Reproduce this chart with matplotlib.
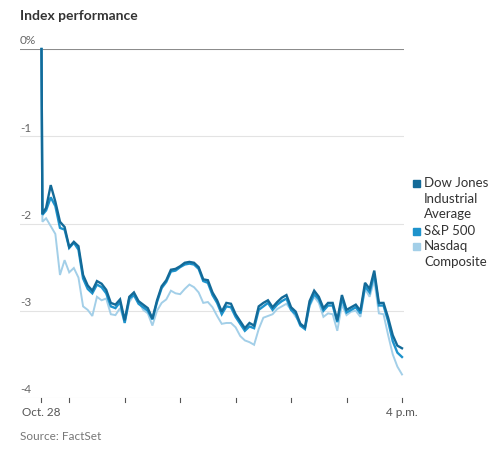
import matplotlib
matplotlib.use("Agg")
import matplotlib.pyplot as plt
import numpy as np

plt.rcParams['font.family'] = ['Lato', 'DejaVu Sans']

# minutes after 9:30 a.m.
minutes = [0, 1] + list(range(5, 391, 5))

dow = [0, -1.89,
       -1.82, -1.56, -1.75, -1.98, -2.04, -2.27, -2.21, -2.26, -2.59, -2.71,
       -2.77, -2.66, -2.69, -2.76, -2.91, -2.93, -2.87, -3.11, -2.84, -2.79,
       -2.89, -2.93, -2.97, -3.09, -2.88, -2.72, -2.65, -2.53, -2.52, -2.49,
       -2.45, -2.44, -2.45, -2.50, -2.64, -2.65, -2.79, -2.88, -3.01, -2.91,
       -2.92, -3.04, -3.12, -3.20, -3.14, -3.17, -2.95, -2.91, -2.88, -2.96,
       -2.90, -2.85, -2.82, -2.96, -3.01, -3.15, -3.19, -2.89, -2.77, -2.84,
       -2.97, -2.91, -2.91, -3.11, -2.82, -2.99, -2.96, -2.93, -3.00, -2.68,
       -2.75, -2.54, -2.91, -2.91, -3.08, -3.28, -3.40, -3.43]

sp500 = [0, -1.90,
         -1.85, -1.70, -1.80, -2.05, -2.07, -2.28, -2.22, -2.30, -2.63, -2.75,
         -2.80, -2.70, -2.73, -2.80, -2.95, -2.97, -2.90, -3.14, -2.86, -2.82,
         -2.92, -2.96, -3.00, -3.10, -2.90, -2.74, -2.67, -2.55, -2.54, -2.50,
         -2.47, -2.46, -2.47, -2.52, -2.66, -2.68, -2.82, -2.91, -3.04, -2.95,
         -2.96, -3.07, -3.15, -3.23, -3.18, -3.20, -2.99, -2.95, -2.91, -2.99,
         -2.93, -2.89, -2.86, -2.99, -3.04, -3.17, -3.21, -2.93, -2.81, -2.87,
         -3.00, -2.94, -2.94, -3.13, -2.86, -3.02, -2.99, -2.96, -3.03, -2.72,
         -2.79, -2.58, -2.94, -2.94, -3.12, -3.35, -3.48, -3.53]

nasdaq = [0, -1.98,
          -1.94, -2.03, -2.12, -2.59, -2.42, -2.56, -2.51, -2.62, -2.95, -2.99,
          -3.06, -2.84, -2.88, -2.86, -3.04, -3.05, -2.97, -3.13, -2.90, -2.82,
          -2.89, -2.99, -3.03, -3.17, -3.00, -2.91, -2.87, -2.77, -2.80, -2.81,
          -2.75, -2.70, -2.73, -2.79, -2.91, -2.90, -2.96, -3.06, -3.15, -3.14,
          -3.14, -3.19, -3.29, -3.34, -3.36, -3.39, -3.21, -3.08, -3.06, -3.04,
          -2.98, -2.95, -2.92, -2.99, -3.07, -3.14, -3.20, -2.95, -2.84, -2.91,
          -3.07, -3.03, -3.04, -3.23, -2.93, -3.05, -3.01, -3.00, -3.07, -2.75,
          -2.84, -2.65, -3.03, -3.04, -3.28, -3.50, -3.64, -3.73]

series_names = ["Dow Jones\nIndustrial\nAverage", "S&P 500", "Nasdaq\nComposite"]
series_colors = ["#136a98", "#1e93cc", "#a3cfe8"]
yticks = [0, -1, -2, -3, -4]
ytick_labels = ["0%", "-1", "-2", "-3", "-4"]
xticks = [0, 30, 90, 150, 210, 270, 330, 390]
xtick_labels = {0: "Oct. 28", 390: "4 p.m."}

W, H = 500, 453
fig = plt.figure(figsize=(W / 100, H / 100), dpi=100)
ax_left, ax_right, ax_top, ax_bottom = 20, 403.5, 49, 398
ax = fig.add_axes([ax_left / W, 1 - ax_bottom / H,
                   (ax_right - ax_left) / W, (ax_bottom - ax_top) / H])

x_left = -(41.5 - ax_left) / 55.5 * 60
x_right = 390 + (ax_right - 402) / 55.5 * 60
ax.set_xlim(x_left, x_right)
ax.set_ylim(-4, 0)

for s in ax.spines.values():
    s.set_visible(False)
ax.set_xticks([])
ax.set_yticks([])

for yv, lab in zip(yticks, ytick_labels):
    if yv == 0:
        ax.axhline(yv, color="#8c8c8c", lw=1.5, zorder=1)
    else:
        ax.axhline(yv, color="#e3e3e3", lw=0.8, zorder=1)
    ax.text(x_left, yv + 0.03, lab, fontsize=8.5, color="#666666",
            ha="left", va="bottom")

for xt in xticks:
    ax.plot([xt, xt], [-4, -4.045], color="#555555", lw=0.8, clip_on=False)
for xt, lab in xtick_labels.items():
    ax.text(xt, -4.1, lab, fontsize=8.5, color="#555555", ha="center", va="top")

for vals, col, lw, z in [(nasdaq, series_colors[2], 1.4, 2),
                         (sp500, series_colors[1], 1.7, 3),
                         (dow, series_colors[0], 1.7, 4)]:
    ax.plot(minutes, vals, color=col, lw=lw, zorder=z, clip_on=False,
            solid_joinstyle="miter")

fig.text(20 / W, 1 - 16 / H, "Index performance", fontsize=10, fontweight="bold",
         color="#333333", ha="left", va="center")
fig.text(20 / W, 1 - 436 / H, "Source: FactSet", fontsize=8.5, color="#777777",
         ha="left", va="center")

# legend
leg_y = [183, 231, 246]
line_h = 15.6
for name, col, ly in zip(series_names, series_colors, leg_y):
    fig.patches.append(plt.Rectangle((413 / W, 1 - (ly + 4) / H), 7 / W, 7 / H,
                                     transform=fig.transFigure, color=col))
    for k, part in enumerate(name.split("\n")):
        fig.text(424 / W, 1 - (ly + k * line_h) / H, part, fontsize=9.5,
                 color="#333333", ha="left", va="center")

fig.savefig("out.png", dpi=100)
